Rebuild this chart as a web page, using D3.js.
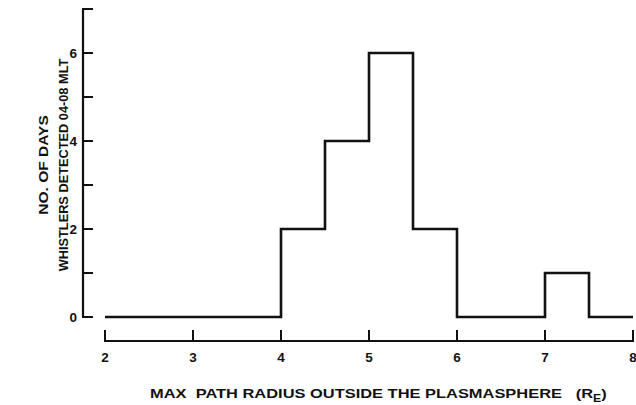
<!DOCTYPE html>
<html>
<head>
<meta charset="utf-8">
<script src="https://cdn.jsdelivr.net/npm/d3@7"></script>
<style>
  body { margin: 0; background: #fff; }
  text { font-family: "Liberation Sans", Arial, sans-serif; font-weight: bold; fill: #111; }
</style>
</head>
<body>
<div id="plot"></div>
<script>
// bin edges (R_E) and counts per bin
var binEdges = [2, 4, 4.5, 5, 5.5, 6, 7, 7.5, 8]
var counts = [0, 2, 4, 6, 2, 0, 1, 0]
var xTicks = [2, 3, 4, 5, 6, 7, 8]
var yMajorTicks = [0, 2, 4, 6]
var yMinorTicks = [1, 3, 5, 7]

var width = 636, height = 405

var svg = d3.select("#plot")
  .append("svg")
  .attr("width", width)
  .attr("height", height)

var xScale = d3.scaleLinear()
  .domain([2, 8])
  .range([105, 633])

var yScale = d3.scaleLinear()
  .domain([0, 7])
  .range([317, 9])

// y axis (ticks pointing inward, right)
var yAxis = svg.append("g")
  .attr("transform", "translate(83,0)")
yAxis.append("line")
  .attr("x1", 0).attr("x2", 0)
  .attr("y1", yScale(7)).attr("y2", yScale(0))
  .attr("stroke", "#111").attr("stroke-width", 2.2)
yAxis.selectAll("line.tick")
  .data(yMajorTicks.concat(yMinorTicks))
  .enter().append("line")
  .attr("class", "tick")
  .attr("x1", -1).attr("x2", 10)
  .attr("y1", d => yScale(d)).attr("y2", d => yScale(d))
  .attr("stroke", "#111").attr("stroke-width", 2)
yAxis.selectAll("text")
  .data(yMajorTicks)
  .enter().append("text")
  .attr("x", -6)
  .attr("y", d => yScale(d) + 5)
  .attr("text-anchor", "end")
  .style("font-size", "13.5px")
  .text(d => d)

// x axis, offset below the plot, ticks pointing up
var xAxis = svg.append("g")
  .attr("transform", "translate(0,341)")
xAxis.append("line")
  .attr("x1", xScale(2)).attr("x2", xScale(8))
  .attr("y1", 0).attr("y2", 0)
  .attr("stroke", "#111").attr("stroke-width", 2.2)
xAxis.selectAll("line.tick")
  .data(xTicks)
  .enter().append("line")
  .attr("class", "tick")
  .attr("x1", d => xScale(d)).attr("x2", d => xScale(d))
  .attr("y1", 1).attr("y2", -11)
  .attr("stroke", "#111").attr("stroke-width", 2)
xAxis.selectAll("text")
  .data(xTicks)
  .enter().append("text")
  .attr("x", d => xScale(d))
  .attr("y", 21)
  .attr("text-anchor", "middle")
  .style("font-size", "13.5px")
  .text(d => d)

// histogram outline as a step line
var steps = []
counts.forEach(function (c, i) {
  steps.push([binEdges[i], c])
  steps.push([binEdges[i + 1], c])
})

var line = d3.line()
  .x(d => xScale(d[0]))
  .y(d => yScale(d[1]))

svg.append("path")
  .datum(steps)
  .attr("d", line)
  .attr("fill", "none")
  .attr("stroke", "#111")
  .attr("stroke-width", 2.6)

// stretch a text group horizontally so it spans a given width
var fitWidth = function (g, w) {
  var box = g.node().getBBox()
  var s = w / box.width
  return s
}

// axis titles
var yTitle1 = svg.append("g")
yTitle1.append("text")
  .attr("text-anchor", "middle")
  .style("font-size", "13px")
  .text("NO. OF DAYS")
var s1 = fitWidth(yTitle1, 100)
yTitle1.attr("transform", "translate(48,165) rotate(-90) scale(" + s1 + ",1)")

var yTitle2 = svg.append("g")
yTitle2.append("text")
  .attr("text-anchor", "middle")
  .style("font-size", "13px")
  .text("WHISTLERS DETECTED 04-08 MLT")
var s2 = fitWidth(yTitle2, 213)
yTitle2.attr("transform", "translate(68,165) rotate(-90) scale(" + s2 + ",1)")

var xTitle = svg.append("g")
var xText = xTitle.append("text")
  .style("font-size", "13.5px")
  .attr("xml:space", "preserve")
xText.append("tspan").text("MAX  PATH RADIUS OUTSIDE THE PLASMASPHERE   (R")
xText.append("tspan").attr("dy", 4).style("font-size", "10px").text("E")
xText.append("tspan").attr("dy", -4).text(")")
var s3 = fitWidth(xTitle, 457)
xTitle.attr("transform", "translate(150,398) scale(" + s3 + ",1)")
</script>
</body>
</html>
